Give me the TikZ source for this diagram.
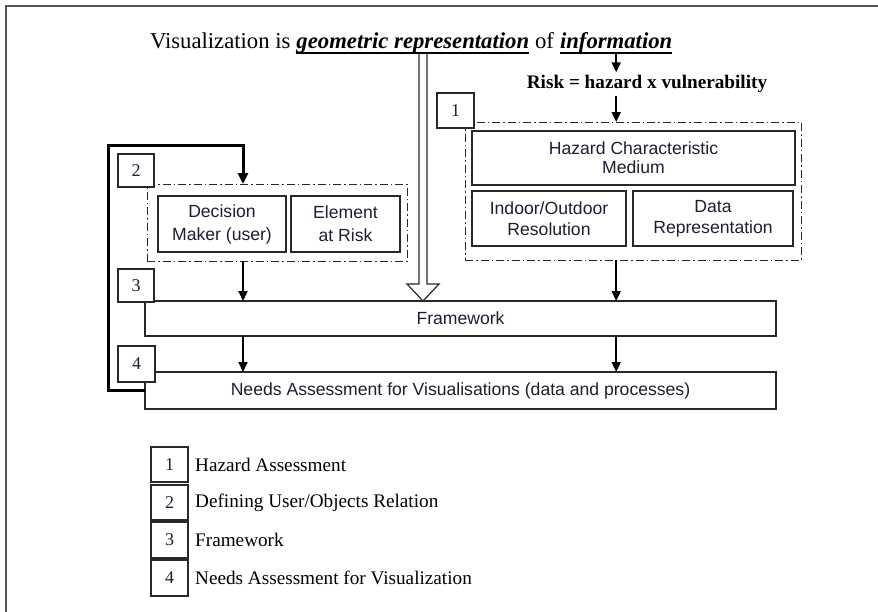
\documentclass[tikz,border=0pt]{standalone}
\usepackage{fontspec}
\setmainfont{Liberation Serif}
\newfontfamily\arialf{Liberation Sans}
\usetikzlibrary{arrows.meta,calc}
\definecolor{linec}{RGB}{40,40,40}
\definecolor{framec}{RGB}{85,85,85}
\definecolor{txt}{RGB}{30,30,50}
\tikzset{
  frameline/.style={draw=framec, line width=2.2pt},
  box/.style={draw=linec, line width=1.1pt, fill=white, inner sep=0pt, outer sep=0pt, align=center, text=txt, font=\arialf\fontsize{17.6}{20}\selectfont},
  numbox/.style={draw=linec, line width=1.1pt, fill=white, inner sep=0pt, outer sep=0pt, minimum width=36pt, minimum height=34pt, text=txt, font=\fontsize{18}{20}\selectfont},
  grp/.style={draw=linec, line width=1pt, dash pattern=on 8pt off 3pt on 1.5pt off 3pt, inner sep=0pt, outer sep=0pt},
  arr/.style={draw=black, line width=1.8pt, -{Triangle[width=9pt,length=10pt]}},
  loopline/.style={draw=black, line width=3pt, -{Triangle[width=10pt,length=11pt]}},
  hollow/.style={draw=linec, line width=1.2pt, fill=white, line join=miter},
  ttl/.style={inner sep=0pt, outer sep=0pt, text=black, anchor=base west},
  ul/.style={draw=black, line width=1.8pt},
  legtext/.style={anchor=west, inner sep=0pt, text=black, font=\fontsize{19.2}{22}\selectfont},
}
\newcommand{\ttlsize}{\fontsize{22.7}{26}\selectfont}
\begin{document}
\begin{tikzpicture}[x=1pt,y=-1pt]
\useasboundingbox (0,0) rectangle (878,611);
\draw[frameline] (6,614) -- (6,6) -- (880,6);

% title
\node[ttl, font=\ttlsize] (t1) at (150,48) {Visualization is};
\node[ttl, font=\ttlsize\bfseries\itshape] (t2) at ($(t1.base east)+(6,0)$) {geometric representation};
\node[ttl, font=\ttlsize] (t3) at ($(t2.base east)+(6,0)$) {of};
\node[ttl, font=\ttlsize\bfseries\itshape] (t4) at ($(t3.base east)+(6,0)$) {information};
\draw[ul] ($(t2.base west)+(0,5)$) -- ($(t2.base east)+(0,5)$);
\draw[ul] ($(t4.base west)+(0,5)$) -- ($(t4.base east)+(0,5)$);

% risk
\node[inner sep=0pt, outer sep=0pt, font=\fontsize{19.2}{22}\selectfont\bfseries] (r) at (647,84) {Risk = hazard x vulnerability};
\draw[arr] ($(t4.base)+(0,6)$) -- ($(t4.base |- r.north)+(0,-3)$);

% group 1
\node[grp, minimum width=336pt, minimum height=138pt] (g1) at (633,191) {};
\node[box, minimum width=323pt, minimum height=54pt, font=\arialf\fontsize{17.6}{19}\selectfont] (hz) at (633.5,158) {Hazard Characteristic\\Medium};
\node[box, minimum width=154pt, minimum height=55pt, font=\arialf\fontsize{17.6}{21}\selectfont] (io) at (549,218.5) {Indoor/Outdoor\\Resolution};
\node[box, minimum width=160pt, minimum height=55pt, font=\arialf\fontsize{17.6}{21}\selectfont] (dr) at (713,218.5) {Data\\Representation};
\node[numbox, minimum width=37pt, minimum height=35pt] (n1) at (455.5,110.5) {1};
\draw[arr] ($(r.south -| t4.base)+(0,3)$) -- (g1.north -| t4.base);

% group 2
\node[grp, minimum width=260pt, minimum height=77pt] (g2) at (277,222.5) {};
\node[box, minimum width=128pt, minimum height=56pt, font=\arialf\fontsize{17.6}{23}\selectfont] (dm) at (222,224) {Decision\\Maker (user)};
\node[box, minimum width=109pt, minimum height=56pt, font=\arialf\fontsize{17.6}{23}\selectfont] (ear) at (345.5,224) {Element\\at Risk};
\node[numbox, minimum height=33pt] (n2) at (136,170.5) {2};

% framework and needs
\node[box, minimum width=631pt, minimum height=35pt] (fw) at (460.5,318.5) {Framework};
\node[box, minimum width=631pt, minimum height=37pt] (na) at (460.5,390.5) {Needs Assessment for Visualisations (data and processes)};
\node[numbox, minimum height=33pt] (n3) at (136,285.5) {3};
\node[numbox, minimum width=37pt, minimum height=36pt] (n4) at (136.5,364) {4};

\coordinate (ax) at (243,145);
\coordinate (lc) at (108,145);
\draw[arr] (g2.south -| ax) -- (fw.north -| ax);
\draw[arr] (g1.south -| t4.base) -- (fw.north -| t4.base);
\draw[arr] (fw.south -| ax) -- (na.north -| ax);
\draw[arr] (fw.south -| t4.base) -- (na.north -| t4.base);
\draw[loopline] (na.west) -| (lc) -| (g2.north -| ax);

% hollow arrow
\coordinate (hs) at (423,54);
\coordinate (ht) at (hs |- fw.north);
\draw[hollow] ($(hs)+(-4,0)$) -- ($(ht)+(-4,-17)$) -- ($(ht)+(-16,-17)$) -- (ht) -- ($(ht)+(16,-17)$) -- ($(ht)+(4,-17)$) -- ($(hs)+(4,0)$);

% legend
\node[numbox, minimum width=37pt, minimum height=35pt] (l1) at (169.5,464.5) {1};
\node[numbox, minimum width=37pt, minimum height=35pt] (l2) at (169.5,502.5) {2};
\node[numbox, minimum width=37pt, minimum height=36pt] (l3) at (169.5,540) {3};
\node[numbox, minimum width=37pt, minimum height=36pt] (l4) at (169.5,578) {4};
\node[legtext] (e1) at ($(l1.east)+(7,0)$) {Hazard Assessment};
\node[legtext] (e2) at ($(l2.east)+(7,0)$) {Defining User/Objects Relation};
\node[legtext] (e3) at ($(l3.east)+(7,0)$) {Framework};
\node[legtext] (e4) at ($(l4.east)+(7,0)$) {Needs Assessment for Visualization};
\end{tikzpicture}
\end{document}
